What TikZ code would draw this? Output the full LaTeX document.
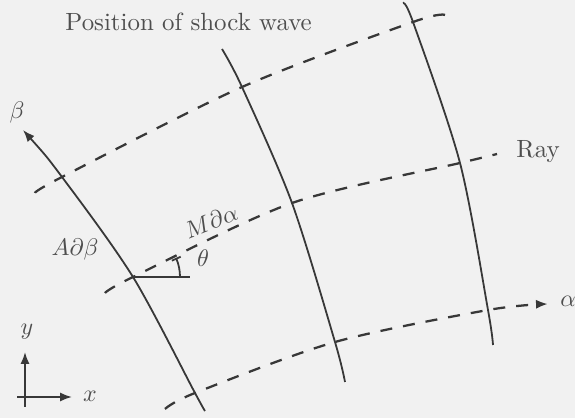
\documentclass[tikz,border=0pt]{standalone}
\usetikzlibrary{arrows.meta}
\definecolor{bgcol}{HTML}{F1F1F1}
\definecolor{linecol}{HTML}{383838}
\definecolor{textcol}{HTML}{4E4E4E}
\begin{document}
\begin{tikzpicture}[x=0.4174pt,y=-0.4174pt,
  shock/.style={draw=linecol,line width=0.75pt},
  raypath/.style={draw=linecol,line width=0.95pt,dash pattern=on 5pt off 4.6pt},
  lbl/.style={text=textcol,inner sep=0pt,font=\fontsize{10.4}{12}\selectfont},
  tip/.style={-{Latex[length=5pt,width=3.8pt]}}]
\fill[bgcol] (0,0) rectangle (575,418);
\useasboundingbox (0,0) rectangle (575,418);
% intersection points
\coordinate (a1) at (62,177);
\coordinate (b1) at (133,277);
\coordinate (c1) at (195,393);
\coordinate (a2) at (242,87);
\coordinate (b2) at (292,203);
\coordinate (c2) at (335,342);
\coordinate (a3) at (413,22);
\coordinate (b3) at (460,163);
\coordinate (c3) at (488,310);
% ends
\coordinate (s1top) at (23,130);
\coordinate (s1bot) at (205,411);
\coordinate (s2top) at (222,49);
\coordinate (s2bot) at (345,382);
\coordinate (s3top) at (403,3);
\coordinate (s3bot) at (493,345);
\coordinate (r1s) at (35,193);
\coordinate (r1e) at (445,15);
\coordinate (r2s) at (105,293);
\coordinate (r2e) at (497,154);
\coordinate (r3s) at (165,409);
\coordinate (r3e) at (548,304);
% shock positions
\draw[shock,{Latex[length=5pt,width=3.8pt]}-] plot[smooth] coordinates {(s1top) (a1) (b1) (c1) (s1bot)};
\draw[shock] plot[smooth] coordinates {(s2top) (a2) (b2) (c2) (s2bot)};
\draw[shock] plot[smooth] coordinates {(s3top) (a3) (b3) (c3) (s3bot)};
% rays
\draw[raypath] plot[smooth] coordinates {(r1s) (a1) (a2) (a3) (r1e)};
\draw[raypath] plot[smooth] coordinates {(r2s) (b1) (b2) (b3) (r2e)};
\draw[raypath,tip] plot[smooth] coordinates {(r3s) (c1) (c2) (c3) (r3e)};
% angle
\coordinate (hz) at (190,277);
\draw[shock] (b1) -- (hz);
\draw[shock,-{Bar[width=4pt]}] (180,277) arc[start angle=0,end angle=-24,radius=47];
% axes
\coordinate (o) at (25,397);
\coordinate (ytip) at (25,352);
\coordinate (xtip) at (72,397);
\coordinate (ybot) at (25,407);
\coordinate (xleft) at (17,397);
\draw[shock,tip] (ybot) -- (ytip);
\draw[shock,tip] (xleft) -- (xtip);
% labels
\node[lbl,anchor=base west] (title) at (65,31) {Position of shock wave};
\node[lbl,anchor=base west] (ray) at (516,158) {Ray};
\node[lbl,anchor=base west] (alpha) at (560,307) {$\alpha$};
\node[lbl] (beta) at (17,113) {$\beta$};
\node[lbl] (adb) at (75,250) {$A\partial\beta$};
\node[lbl] (theta) at (203,258) {$\theta$};
\node[lbl,rotate=22] (mda) at (211,221) {$M\partial\alpha$};
\node[lbl] (ylab) at (27,332) {$y$};
\node[lbl] (xlab) at (90,396) {$x$};
\end{tikzpicture}
\end{document}
